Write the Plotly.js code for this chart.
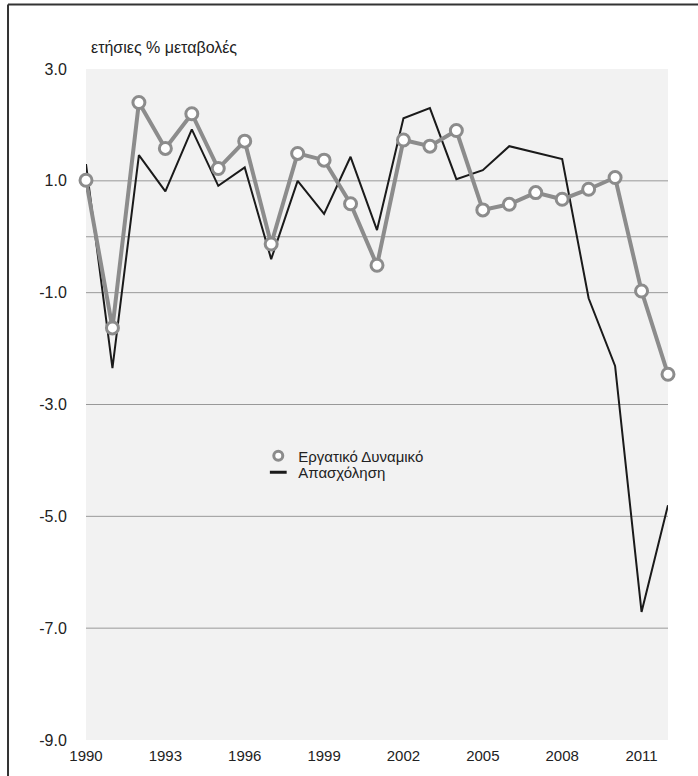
<!DOCTYPE html>
<html>
<head>
<meta charset="utf-8">
<script src="https://cdn.plot.ly/plotly-3.0.1.min.js"></script>
<style>
html,body{margin:0;padding:0;background:#fff;}
#chart{width:698px;height:776px;}
</style>
</head>
<body>
<div id="chart"></div>
<script>
const years = [1990,1991,1992,1993,1994,1995,1996,1997,1998,1999,2000,2001,2002,2003,2004,2005,2006,2007,2008,2009,2010,2011,2012];
const labourForce = [1.01,-1.63,2.40,1.58,2.20,1.22,1.71,-0.13,1.49,1.37,0.59,-0.51,1.73,1.62,1.90,0.48,0.58,0.79,0.67,0.85,1.06,-0.97,-2.46];
const employment = [1.30,-2.35,1.46,0.81,1.92,0.91,1.24,-0.40,1.00,0.41,1.43,0.12,2.12,2.30,1.03,1.19,1.62,1.50,1.39,-1.10,-2.31,-6.71,-4.80];
const xTicks = [1990,1993,1996,1999,2002,2005,2008,2011];
const yTicks = [3,1,-1,-3,-5,-7,-9];
const gridValues = [1,0,-1,-3,-5,-7];
const seriesNames = ['Εργατικό Δυναμικό','Απασχόληση'];
const yTitle = 'ετήσιες % μεταβολές';

const grey = '#8c8c8c';
const black = '#1a1a1a';

const traces = [
  {x: years, y: employment, type:'scatter', mode:'lines', line:{color:black, width:2}, showlegend:false},
  {x: years, y: labourForce, type:'scatter', mode:'lines+markers', line:{color:grey, width:4},
   marker:{symbol:'circle', size:12, color:'#ffffff', line:{color:grey, width:3}}, showlegend:false, cliponaxis:false},
  {x:[null], y:[null], type:'scatter', mode:'markers', name: seriesNames[0], legend:'legend',
   marker:{symbol:'circle', size:9, color:'#ffffff', line:{color:grey, width:3}}},
  {x:[null], y:[null], type:'scatter', mode:'markers', name: seriesNames[1], legend:'legend2',
   marker:{symbol:'line-ew', size:12, color:black, line:{color:black, width:3}}}
];

const shapes = gridValues.map(v => ({type:'line', xref:'paper', yref:'y', x0:0, x1:1, y0:v, y1:v, line:{color:'#999999', width:1}, layer:'below'}));
shapes.push({type:'line', xref:'paper', yref:'paper', x0:-0.134, x1:-0.134, y0:-0.1, y1:1.096, line:{color:'#333333', width:2}});
shapes.push({type:'line', xref:'paper', yref:'paper', x0:-0.134, x1:1.1, y0:1.096, y1:1.096, line:{color:'#333333', width:2}});

const legendFont = {family:'"Liberation Sans", Arial, sans-serif', size:15, color:'#222222'};

const layout = {
  width:698, height:776,
  margin:{l:86, r:30, t:69, b:36, pad:0},
  paper_bgcolor:'#ffffff',
  plot_bgcolor:'#f2f2f2',
  font:{family:'"Liberation Sans", Arial, Helvetica, sans-serif', size:15, color:'#222222'},
  showlegend:true,
  legend:{x:0.296, xanchor:'left', y:0.4232, yanchor:'middle', bgcolor:'rgba(0,0,0,0)', borderwidth:0, font:legendFont},
  legend2:{x:0.296, xanchor:'left', y:0.3987, yanchor:'middle', bgcolor:'rgba(0,0,0,0)', borderwidth:0, font:legendFont},
  xaxis:{range:[1990,2012], tickvals:xTicks, ticktext:xTicks.map(String), showgrid:false, zeroline:false, showline:false,
         ticks:'outside', ticklen:2, tickcolor:'rgba(0,0,0,0)', tickfont:{size:15, color:'#222222'}, fixedrange:true},
  yaxis:{range:[-9,3], tickvals:yTicks, ticktext:yTicks.map(v=>v.toFixed(1)), showgrid:false, zeroline:false, showline:false,
         ticks:'outside', ticklen:15, tickcolor:'rgba(0,0,0,0)', tickfont:{size:16, color:'#222222'}, fixedrange:true},
  shapes: shapes,
  annotations:[{xref:'paper', yref:'paper', x:0.005, y:1.017, xanchor:'left', yanchor:'bottom', text:yTitle, showarrow:false, font:{size:16, color:'#222222'}}]
};

Plotly.newPlot('chart', traces, layout, {displayModeBar:false, staticPlot:true});
</script>
</body>
</html>
